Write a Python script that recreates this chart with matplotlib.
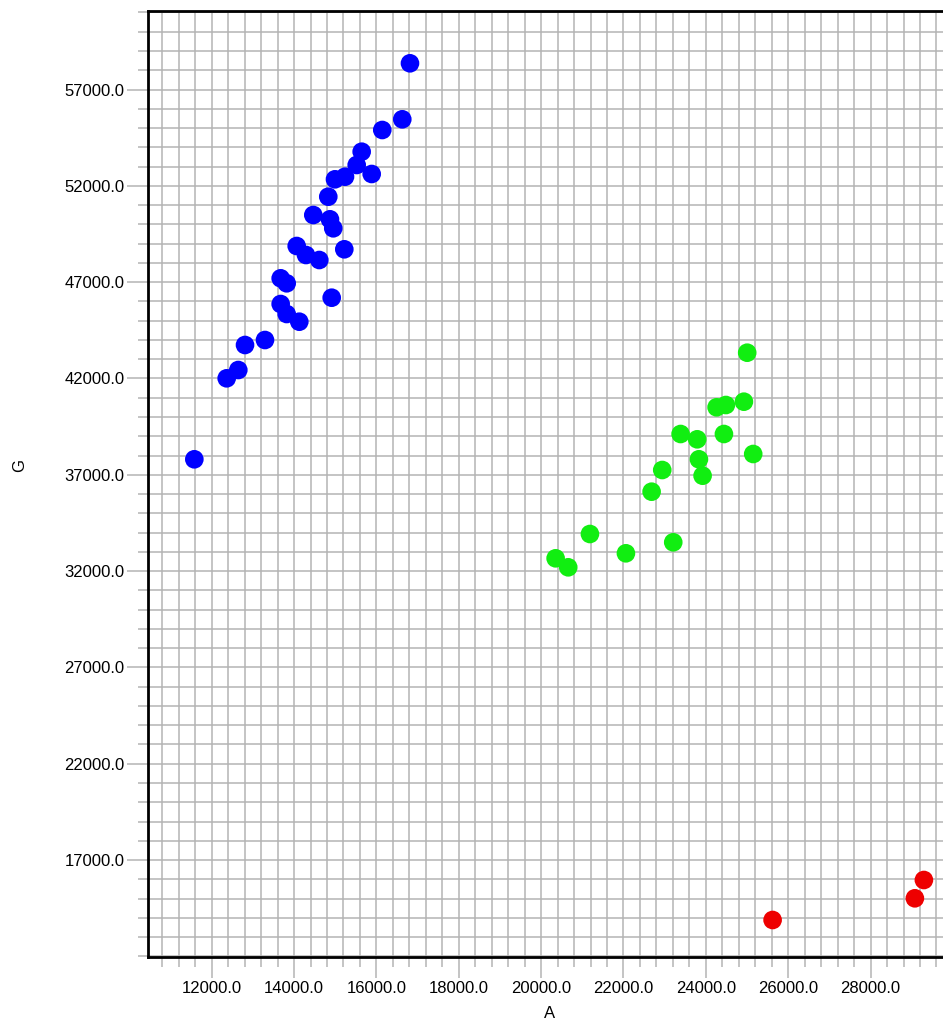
import matplotlib
matplotlib.use("Agg")
import matplotlib.pyplot as plt
from matplotlib.ticker import MultipleLocator, FixedLocator, FormatStrFormatter

plt.rcParams['font.family'] = ['Liberation Sans', 'DejaVu Sans']

# cluster 1 (blue)
blue_a = [16815, 16628, 16142, 15642, 15521, 15885, 15237, 14994, 14831, 14467,
          14872, 14952, 14064, 15220, 14290, 14613, 13675, 13821, 14914, 13675,
          13821, 14127, 13294, 12809, 12646, 12364, 11578]
blue_g = [58360, 55453, 54898, 53771, 53081, 52614, 52473, 52338, 51435, 50485,
          50262, 49795, 48876, 48705, 48409, 48149, 47199, 46940, 46192, 45865,
          45346, 44946, 43996, 43737, 42439, 42008, 37804]

# cluster 2 (green)
green_a = [25004, 24924, 24487, 24261, 23387, 23790, 24439, 25150, 23832, 23921,
           22941, 22683, 21185, 23208, 22059, 20352, 20658]
green_g = [43337, 40794, 40622, 40503, 39117, 38842, 39117, 38079, 37804, 36952,
           37248, 36122, 33926, 33495, 32924, 32664, 32197]

# cluster 3 (red)
red_a = [25621, 29076, 29295]
red_g = [13889, 15015, 15965]

g_ticks = [17000, 22000, 27000, 32000, 37000, 42000, 47000, 52000, 57000]
a_ticks = [12000, 14000, 16000, 18000, 20000, 22000, 24000, 26000, 28000]

fig = plt.figure(figsize=(9.43, 10.23), dpi=100)
ax = fig.add_axes([148/943, 66/1023, 802/943, 946/1023])

ax.scatter(blue_a, blue_g, s=180, c='#0000ff', edgecolors='none', zorder=3)
ax.scatter(green_a, green_g, s=180, c='#11ee11', edgecolors='none', zorder=3)
ax.scatter(red_a, red_g, s=180, c='#ee0000', edgecolors='none', zorder=3)

ax.set_xlim(10453, 29929)
ax.set_ylim(11968, 61075)

ax.xaxis.set_major_locator(FixedLocator(a_ticks))
ax.xaxis.set_minor_locator(MultipleLocator(400))
ax.yaxis.set_major_locator(FixedLocator(g_ticks))
ax.yaxis.set_minor_locator(MultipleLocator(1000))
ax.xaxis.set_major_formatter(FormatStrFormatter('%.1f'))
ax.yaxis.set_major_formatter(FormatStrFormatter('%.1f'))

ax.grid(True, which='both', color='#b4b4b4', linewidth=1.1, zorder=0)
ax.set_axisbelow(True)

ax.tick_params(which='major', length=15, width=1.1, color='#b4b4b4',
               labelsize=12, pad=2)
ax.tick_params(which='minor', length=7, width=1.1, color='#b4b4b4')

for side in ['left', 'bottom', 'top']:
    ax.spines[side].set_linewidth(2)
    ax.spines[side].set_color('black')
ax.spines['right'].set_visible(False)

fig.text(550/943, 1 - 1014/1023, 'A', fontsize=12, ha='center', va='center')
fig.text(20/943, 1 - 466/1023, 'G', fontsize=12, ha='center', va='center',
         rotation=90)

fig.savefig('out.png', dpi=100)
